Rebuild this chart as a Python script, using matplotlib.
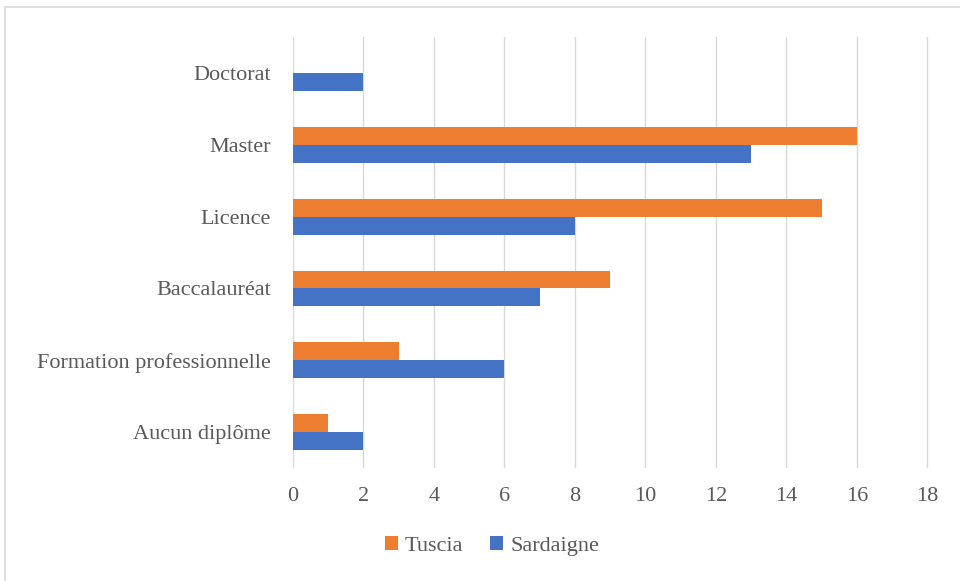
import matplotlib.pyplot as plt
from matplotlib.patches import Rectangle
import numpy as np

categories = ['Aucun diplôme', 'Formation professionnelle', 'Baccalauréat',
              'Licence', 'Master', 'Doctorat']
tuscia = [1, 3, 9, 15, 16, 0]
sardaigne = [2, 6, 7, 8, 13, 2]

txt = '#595959'
plt.rcParams['font.family'] = ['Liberation Serif', 'DejaVu Serif']

fig = plt.figure(figsize=(9.6, 5.81), dpi=100)
ax = fig.add_axes([0.3052, 0.1945, 0.6625, 0.7415])

y = np.arange(len(categories))
h = 0.25
ax.barh(y + h / 2, tuscia, height=h, color='#ED7D31', label='Tuscia', zorder=3)
ax.barh(y - h / 2, sardaigne, height=h, color='#4472C4', label='Sardaigne', zorder=3)

ax.set_xlim(0, 18.05)
ax.set_ylim(-0.5, len(categories) - 0.5)
ax.set_xticks(range(0, 19, 2))
ax.set_yticks(y)
ax.set_yticklabels(categories)
ax.grid(axis='x', color='#D9D9D9', linewidth=1, zorder=0)
for s in ax.spines.values():
    s.set_visible(False)
ax.tick_params(axis='both', length=0, colors=txt, labelsize=16)
ax.tick_params(axis='x', pad=14)
ax.tick_params(axis='y', pad=16)

ax.legend(loc='center', bbox_to_anchor=(492 / 960, 1 - 546 / 581),
          bbox_transform=fig.transFigure, ncol=2, frameon=False,
          fontsize=16, labelcolor=txt, handlelength=0.6, handleheight=0.6,
          handletextpad=0.3, columnspacing=1.2)

fig.patches.append(Rectangle((5 / 960, -0.01), 1.0, 1 - 7 / 581 + 0.01,
                             transform=fig.transFigure, fill=False,
                             edgecolor='#D9D9D9', linewidth=1.2))

fig.savefig('out.png', dpi=100)
